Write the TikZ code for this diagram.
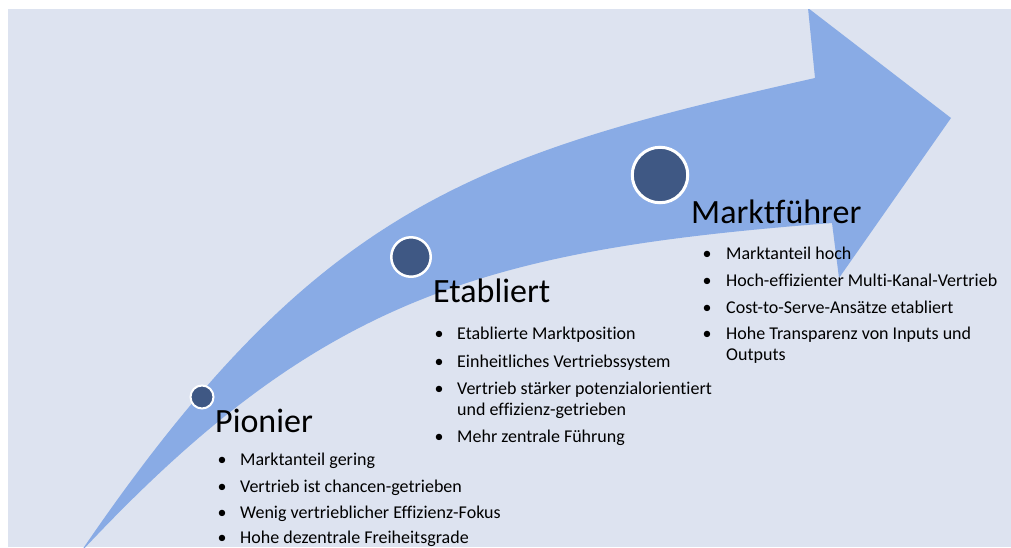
\documentclass[tikz,border=0pt]{standalone}
\usepackage{fontspec}
\setmainfont{Carlito}[RawFeature={-liga,-clig,-dlig}]
\definecolor{bgc}{RGB}{221,227,240}
\definecolor{arrowc}{RGB}{137,171,229}
\definecolor{dotc}{RGB}{63,88,132}
\newcommand{\headfnt}{\fontsize{34}{40}\selectfont}
\newcommand{\itemfnt}{\fontsize{18}{22}\selectfont}
\begin{document}
\begin{tikzpicture}[x=1pt,y=-1pt,
  stagedot/.style={circle, fill=dotc, draw=white, inner sep=0pt},
  headtext/.style={anchor=base west, inner sep=0pt, font=\headfnt},
  itemtext/.style={anchor=base west, inner sep=0pt, font=\itemfnt},
  bulletmark/.style={anchor=base, inner sep=0pt, font=\itemfnt}]
\useasboundingbox (0,0) rectangle (1011,547);
\fill[bgc] (8,9) rectangle (1011,547);
\begin{scope}
  \clip (8,9) rectangle (1011,547);
  \fill[arrowc] (80,553) .. controls (316,206) and (473,155) .. (815,78)
     -- (808,8) -- (951,118) -- (839,278) -- (832,223)
     .. controls (483,250) and (319,297) .. (80,553) -- cycle;
\end{scope}
% stage circles
\node[stagedot, minimum size=23pt, line width=2pt] (c1) at (202,397) {};
\node[stagedot, minimum size=39.5pt, line width=2.5pt] (c2) at (411,257) {};
\node[stagedot, minimum size=55.5pt, line width=3pt] (c3) at (660,175) {};
% Pionier
\node[headtext] (h1) at (215,432) {Pionier};
\node[bulletmark] (b11) at (222,465) {•};
\node[itemtext] (t11) at (240,465) {Marktanteil gering};
\node[bulletmark] (b12) at (222,492) {•};
\node[itemtext] (t12) at (240,492) {Vertrieb ist chancen-getrieben};
\node[bulletmark] (b13) at (222,518) {•};
\node[itemtext] (t13) at (240,518) {Wenig vertrieblicher Effizienz-Fokus};
\node[bulletmark] (b14) at (222,543) {•};
\node[itemtext] (t14) at (240,543) {Hohe dezentrale Freiheitsgrade};
% Etabliert
\node[headtext] (h2) at (433,302) {Etabliert};
\node[bulletmark] (b21) at (439,339) {•};
\node[itemtext] (t21) at (457,339) {Etablierte Marktposition};
\node[bulletmark] (b22) at (439,367) {•};
\node[itemtext] (t22) at (457,367) {Einheitliches Vertriebssystem};
\node[bulletmark] (b23) at (439,394) {•};
\node[itemtext] (t23) at (457,394) {Vertrieb stärker potenzialorientiert};
\node[itemtext] (t23b) at (457,415) {und effizienz-getrieben};
\node[bulletmark] (b24) at (439,442) {•};
\node[itemtext] (t24) at (457,442) {Mehr zentrale Führung};
% Marktfuehrer
\node[headtext] (h3) at (691,223) {Marktführer};
\node[bulletmark] (b31) at (707,259) {•};
\node[itemtext] (t31) at (726,259) {Marktanteil hoch};
\node[bulletmark] (b32) at (707,286) {•};
\node[itemtext] (t32) at (726,286) {Hoch-effizienter Multi-Kanal-Vertrieb};
\node[bulletmark] (b33) at (707,313) {•};
\node[itemtext] (t33) at (726,313) {Cost-to-Serve-Ansätze etabliert};
\node[bulletmark] (b34) at (707,339) {•};
\node[itemtext] (t34) at (726,339) {Hohe Transparenz von Inputs und};
\node[itemtext] (t34b) at (726,360) {Outputs};
\end{tikzpicture}
\end{document}
